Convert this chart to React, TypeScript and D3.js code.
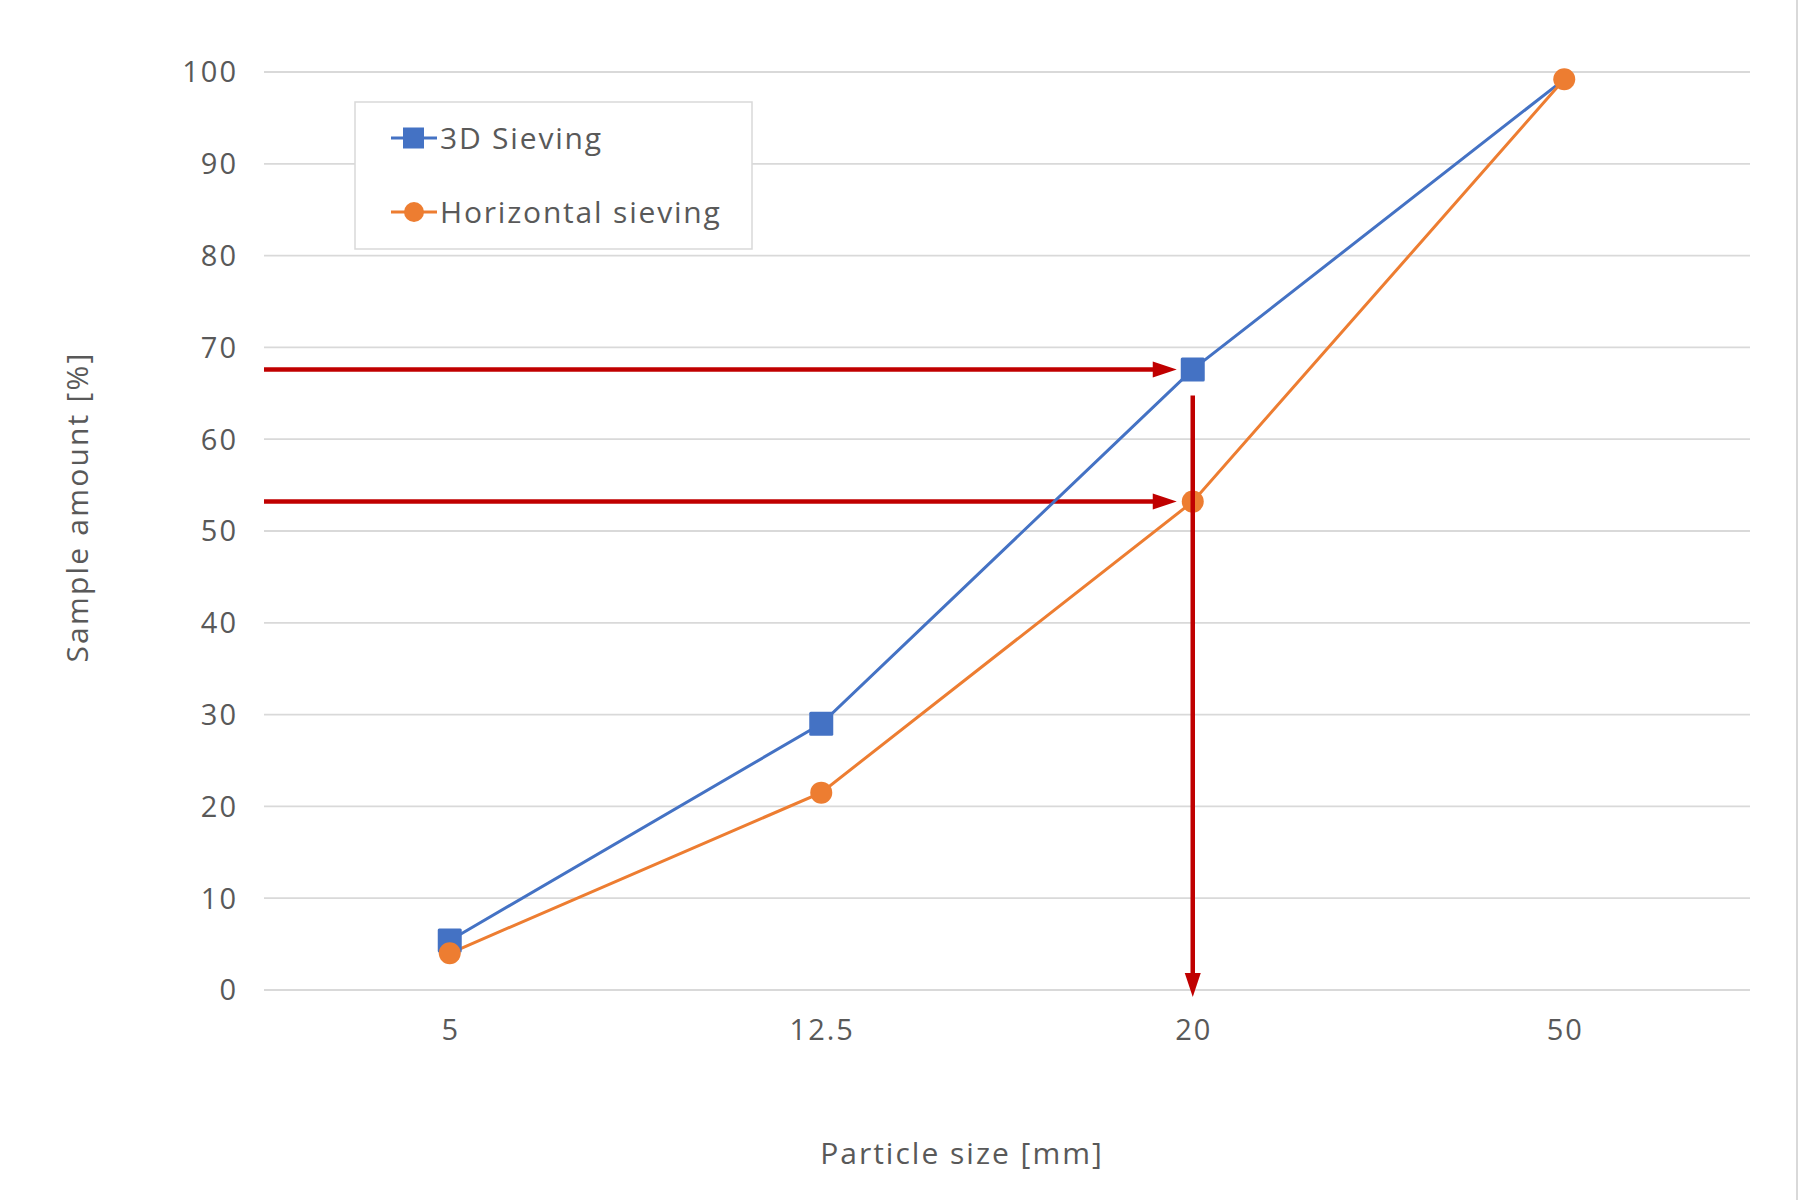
import * as d3 from 'd3'

// particle size classes (mm) and cumulative passing (%)
const sizes = ['5', '12.5', '20', '50']
const sieving3D = [5.4, 29.0, 67.6, 99.2]
const sievingHorizontal = [4.0, 21.5, 53.2, 99.2]
// the last 3D point sits under the orange one and shows no marker
const sieving3DMarker = [true, true, true, false]
const yTicks = [0, 10, 20, 30, 40, 50, 60, 70, 80, 90, 100]
const seriesNames = ['3D Sieving', 'Horizontal sieving']
// the size class the red guide arrows point at
const markedSize = '20'

const W = 1800
const H = 1200
const FONT = '"Open Sans", "DejaVu Sans", sans-serif'
const TEXT = '#595959'
const GRID = '#d9d9d9'
const BLUE = '#4472C4'
const ORANGE = '#ED7D31'
const RED = '#C00000'

export default function App() {
  const x = d3.scalePoint<string>().domain(sizes).range([264, 1750]).padding(0.5)
  const y = d3.scaleLinear().domain([0, 100]).range([990, 72])

  const line = d3.line<number>()
    .x((_, i) => x(sizes[i]) as number)
    .y((d) => y(d))

  const mi = sizes.indexOf(markedSize)
  const mx = x(markedSize) as number
  const arrowGap = 16
  const headLen = 24
  const headHalf = 8

  const hArrows = [sieving3D[mi], sievingHorizontal[mi]]

  return (
    <div>
      <style>{`body{margin:0}`}</style>
      <svg width={W} height={H} style={{ display: 'block', background: '#fff' }} fontFamily={FONT}>
        {/* right border of the chart frame */}
        <line x1={W - 3} x2={W - 3} y1={0} y2={H} stroke={GRID} strokeWidth={2} />

        {/* gridlines + y tick labels */}
        {yTicks.map((t) => (
          <g key={t}>
            <line x1={264} x2={1750} y1={y(t)} y2={y(t)} stroke={GRID} strokeWidth={1.8} />
            <text x={238} y={y(t)} dy="0.36em" textAnchor="end" fontSize={29} letterSpacing={2} fill={TEXT}>{t}</text>
          </g>
        ))}

        {/* x tick labels */}
        {sizes.map((s) => (
          <text key={s} x={(x(s) as number) + 1} y={1030} dy="0.36em" textAnchor="middle" fontSize={29} letterSpacing={2} fill={TEXT}>{s}</text>
        ))}

        {/* axis titles */}
        <text x={962} y={1153} dy="0.36em" textAnchor="middle" fontSize={30} letterSpacing={2} fill={TEXT}>Particle size [mm]</text>
        <text transform={`translate(77,507) rotate(-90)`} dy="0.36em" textAnchor="middle" fontSize={30} letterSpacing={2.2} fill={TEXT}>Sample amount [%]</text>

        {/* red guide arrows: horizontal to the points */}
        {hArrows.map((v, i) => {
          const yy = y(v)
          const tip = mx - arrowGap
          return (
            <g key={i}>
              <line x1={264} x2={tip - headLen + 2} y1={yy} y2={yy} stroke={RED} strokeWidth={4.5} />
              <path d={`M${tip},${yy} L${tip - headLen},${yy - headHalf} L${tip - headLen},${yy + headHalf} Z`} fill={RED} />
            </g>
          )
        })}

        {/* series lines */}
        <path d={line(sieving3D) ?? ''} fill="none" stroke={BLUE} strokeWidth={3} />
        <path d={line(sievingHorizontal) ?? ''} fill="none" stroke={ORANGE} strokeWidth={3} />

        {/* markers */}
        {sieving3D.map((v, i) => sieving3DMarker[i] && (
          <rect key={i} x={(x(sizes[i]) as number) - 12} y={y(v) - 12} width={24} height={24} rx={1.5} fill={BLUE} />
        ))}
        {sievingHorizontal.map((v, i) => (
          <circle key={i} cx={x(sizes[i])} cy={y(v)} r={11} fill={ORANGE} />
        ))}

        {/* red guide arrow: vertical down to the x axis */}
        {(() => {
          const top = y(sieving3D[mi]) + 26
          const tip = y(0) + 7
          return (
            <g>
              <line x1={mx} x2={mx} y1={top} y2={tip - headLen + 2} stroke={RED} strokeWidth={4.5} />
              <path d={`M${mx},${tip} L${mx - headHalf},${tip - headLen} L${mx + headHalf},${tip - headLen} Z`} fill={RED} />
            </g>
          )
        })()}

        {/* legend */}
        <g>
          <rect x={355} y={102} width={397} height={147} fill="#fff" stroke={GRID} strokeWidth={1.5} />
          {seriesNames.map((name, i) => {
            const ly = 138 + i * 74
            const color = i === 0 ? BLUE : ORANGE
            return (
              <g key={name}>
                <line x1={391} x2={437} y1={ly} y2={ly} stroke={color} strokeWidth={3} />
                {i === 0
                  ? <rect x={403} y={ly - 10.5} width={21} height={21} fill={color} />
                  : <circle cx={414} cy={ly} r={10} fill={color} />}
                <text x={440} y={ly} dy="0.36em" fontSize={30} letterSpacing={1.8} fill={TEXT}>{name}</text>
              </g>
            )
          })}
        </g>
      </svg>
    </div>
  )
}
